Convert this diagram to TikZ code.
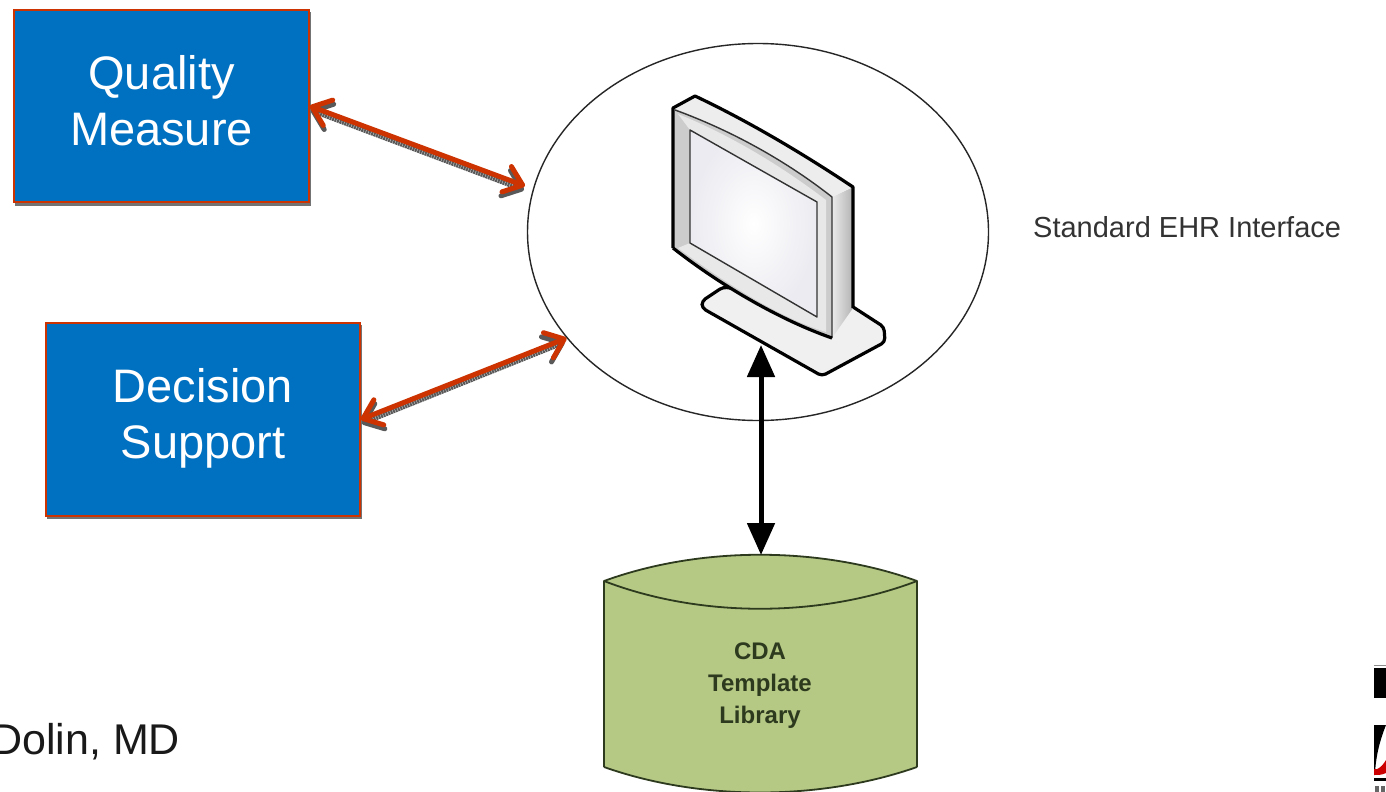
\documentclass[tikz,border=0pt]{standalone}
\usepackage{fontspec}
\setmainfont{Liberation Sans}
\usetikzlibrary{shapes.geometric,arrows.meta,calc}
\definecolor{boxblue}{HTML}{0070C0}
\definecolor{arrowred}{HTML}{CC3300}
\definecolor{cylgreen}{HTML}{B5C985}
\definecolor{cylline}{HTML}{2E3A1E}
\tikzset{
  x=1pt,y=-1pt,
  measurebox/.style={rectangle,fill=boxblue,draw=arrowred,line width=1.4pt,text=white,align=center,font=\fontsize{47}{57}\selectfont,inner sep=0pt},
  redlink/.style={draw=arrowred,line width=5pt,{Straight Barb[length=17pt,width=27pt,line width=5pt,round]}-{Straight Barb[length=17pt,width=27pt,line width=5pt,round]}},
  shadowlink/.style={draw=black!65,line width=5pt,{Straight Barb[length=17pt,width=27pt,line width=5pt,round]}-{Straight Barb[length=17pt,width=27pt,line width=5pt,round]}},
  blacklink/.style={draw=black,line width=5pt,{Triangle[length=32pt,width=27pt]}-{Triangle[length=32pt,width=27pt]}},
  mline/.style={draw=black,line width=3.2pt,line join=round},
  thinm/.style={draw=black!80,line width=1.4pt,line join=round},
  cylstroke/.style={draw=cylline,line width=1.8pt,line join=round},
  boxshadow/.style={fill=black!55,draw=none},
}
\begin{document}
\begin{tikzpicture}
\useasboundingbox (0,0) rectangle (1386,792);
\clip (0,0) rectangle (1386,792);
\fill[white] (0,0) rectangle (1386,792);

% box shadows
\fill[boxshadow] (15,12) rectangle (311,206);
\fill[boxshadow] (47,325) rectangle (362,519);

% boxes
\node[measurebox,minimum width=295pt,minimum height=192pt] (qm) at (161.5,106) {\strut Quality\\[-1pt]\strut Measure};
\node[measurebox,minimum width=314pt,minimum height=193pt] (ds) at (203,419.5) {\strut Decision\\[-1pt]\strut Support};

% circle
\node[ellipse,draw=black!85,line width=1.4pt,minimum width=461pt,minimum height=377pt,inner sep=0pt] (ehr) at (758,232) {};
\node[anchor=west,font=\fontsize{29}{35}\selectfont,text=black!80,inner sep=0pt] (ehrlabel) at (1033,227) {Standard EHR Interface};

% monitor: base
\filldraw[mline,fill=black!6,rounded corners=4pt] (723,287) -- (702,301) -- (702,308) -- (822,376) -- (885,342) -- (884,327) -- (850,305) -- cycle;
% monitor: side
\shade[left color=black!8,right color=black!30] (832,197) -- (853,187) -- (853,308) -- (832,338) -- cycle;
% monitor: top face
\fill[black!7] (673,108) -- (695,96) .. controls (750,122) and (805,155) .. (853,187) -- (832,197) .. controls (785,160) and (730,130) .. (673,108) -- cycle;
% monitor: front bezel
\fill[black!20] (673,108) .. controls (730,130) and (785,160) .. (832,197) -- (832,338) .. controls (780,320) and (720,285) .. (673,248) -- cycle;
\fill[black!9] (678,114) -- (690,130) -- (817,202) -- (817,317) -- (690,243) -- (678,248) .. controls (725,283) and (780,318) .. (826,332) -- (826,200) .. controls (780,165) and (730,135) .. (678,114) -- cycle;
% monitor: screen
\shade[inner color=white,outer color=blue!30!black!8!white,shading=radial] (690,130) -- (817,202) -- (817,317) -- (690,243) -- cycle;
\draw[thinm] (690,130) -- (817,202) -- (817,317) -- (690,243) -- cycle;
\draw[thinm] (675,110) .. controls (730,130) and (785,160) .. (832,197) -- (832,338);
% monitor: outline
\draw[mline] (673,248) -- (673,108) -- (695,96) .. controls (750,122) and (805,155) .. (853,187) -- (853,308);
\draw[mline] (673,248) .. controls (720,285) and (780,320) .. (832,338);
\coordinate (monitor) at (761,345);

% cylinder
\path[fill=cylgreen] (604,581) .. controls (700,546) and (820,546) .. (917,581) -- (917,767) .. controls (820,801) and (700,801) .. (604,767) -- cycle;
\draw[cylstroke] (604,767) -- (604,581) .. controls (700,546) and (820,546) .. (917,581) -- (917,767);
\draw[cylstroke] (604,581) .. controls (700,618) and (820,618) .. (917,581);
\draw[cylstroke] (604,767) .. controls (700,801) and (820,801) .. (917,767);
\node[font=\bfseries\fontsize{24}{32}\selectfont,text=cylline,align=center,inner sep=0pt,minimum width=313pt,minimum height=100pt] (cda) at (760,686) {CDA\\Template\\Library};
\coordinate (cdatop) at (761,555);

% shadows of links
\coordinate (qmend) at (525,186);
\draw[shadowlink,dash pattern=on 2pt off 0.6pt] ([shift={(1,4)}]qm.east) -- ([shift={(-1,4)}]qmend);
\coordinate (dsend) at (ehr.209);
\draw[shadowlink,dash pattern=on 2pt off 0.6pt] ([shift={(1,4)}]ds.east) -- ([shift={(-2,4)}]dsend);

% links
\draw[redlink] (qm.east) -- (qmend);
\draw[redlink] (ds.east) -- (dsend);
\draw[blacklink] (monitor) -- (cdatop);

% footer text
\node[anchor=base west,font=\fontsize{43}{50}\selectfont,inner sep=0pt,text=black!90] (author) at (-9,754) {Dolin, MD};

% logo fragment
\fill[black!45] (1374,664.5) rectangle (1386,666);
\fill[black] (1374,668) rectangle (1386,698);
\fill[black] (1374,725) -- (1386,725) .. controls (1380,740) and (1376,755) .. (1375,773) -- (1374,773) -- cycle;
\fill[black] (1374,778) rectangle (1386,781);
\fill[red!80!black] (1374,769) -- (1377,769) .. controls (1380,768) and (1383,765) .. (1386,760) -- (1386,773) .. controls (1382,775) and (1378,775) .. (1374,775) -- cycle;
\fill[black!60] (1375,786) rectangle (1379,792);
\fill[black!60] (1381,786) rectangle (1385,792);
\end{tikzpicture}
\end{document}
